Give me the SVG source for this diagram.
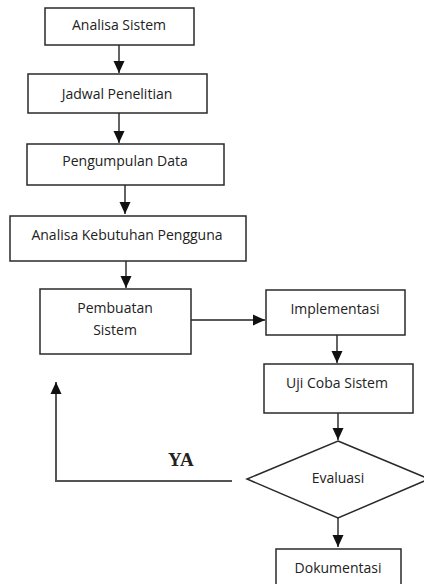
<svg xmlns="http://www.w3.org/2000/svg" width="424" height="584" viewBox="0 0 424 584">
<style>
.box{fill:#fff;stroke:#2a2a2a;stroke-width:1.5}
.lbl{font-family:"Open Sans","Liberation Sans",sans-serif;font-size:14px;fill:#222;text-anchor:middle}
.con{fill:none;stroke:#222;stroke-width:1.4}
.fb{fill:none;stroke:#555;stroke-width:2}
.ya{font-family:"Liberation Serif",serif;font-weight:bold;font-size:19px;fill:#222}
</style>
<defs>
<marker id="ah" markerUnits="userSpaceOnUse" markerWidth="12" markerHeight="12" refX="12" refY="6" orient="auto">
<path d="M0,0.5 L12,6 L0,11.5 z" fill="#111"/>
</marker>
</defs>
<rect width="424" height="584" fill="#fff"/>
<g id="connectors">
<line class="con" x1="119" y1="45" x2="119" y2="73" marker-end="url(#ah)"/>
<line class="con" x1="119" y1="113" x2="119" y2="143" marker-end="url(#ah)"/>
<line class="con" x1="125" y1="185" x2="125" y2="214" marker-end="url(#ah)"/>
<line class="con" x1="126" y1="261" x2="126" y2="288" marker-end="url(#ah)"/>
<line class="con" x1="191" y1="320" x2="265" y2="320" marker-end="url(#ah)"/>
<line class="con" x1="337" y1="335" x2="337" y2="363" marker-end="url(#ah)"/>
<line class="con" x1="338" y1="413" x2="338" y2="440" marker-end="url(#ah)"/>
<line class="con" x1="338" y1="518" x2="338" y2="547" marker-end="url(#ah)"/>
<polyline class="fb" points="232,481 56,481 56,382" marker-end="url(#ah)"/>
<text class="ya" x="168" y="466">YA</text>
</g>
<g id="n1"><rect class="box" x="45" y="8" width="149" height="37"/><text class="lbl" x="119" y="30">Analisa Sistem</text></g>
<g id="n2"><rect class="box" x="28" y="74" width="179" height="39"/><text class="lbl" x="117" y="99">Jadwal Penelitian</text></g>
<g id="n3"><rect class="box" x="27" y="144" width="197" height="41"/><text class="lbl" x="125" y="166">Pengumpulan Data</text></g>
<g id="n4"><rect class="box" x="10" y="216" width="236" height="45"/><text class="lbl" x="127" y="240">Analisa Kebutuhan Pengguna</text></g>
<g id="n5"><rect class="box" x="40" y="289" width="151" height="65"/><text class="lbl" x="115" y="313">Pembuatan</text><text class="lbl" x="115" y="335">Sistem</text></g>
<g id="n6"><rect class="box" x="266" y="290" width="139" height="45"/><text class="lbl" x="335" y="314">Implementasi</text></g>
<g id="n7"><rect class="box" x="264" y="364" width="149" height="49"/><text class="lbl" x="337" y="388">Uji Coba Sistem</text></g>
<g id="n8"><polygon class="box" points="338,441 429,479 338,518 247,479"/><text class="lbl" x="338" y="483">Evaluasi</text></g>
<g id="n9"><rect class="box" x="276" y="549" width="125" height="45"/><text class="lbl" x="338" y="573">Dokumentasi</text></g>
</svg>
